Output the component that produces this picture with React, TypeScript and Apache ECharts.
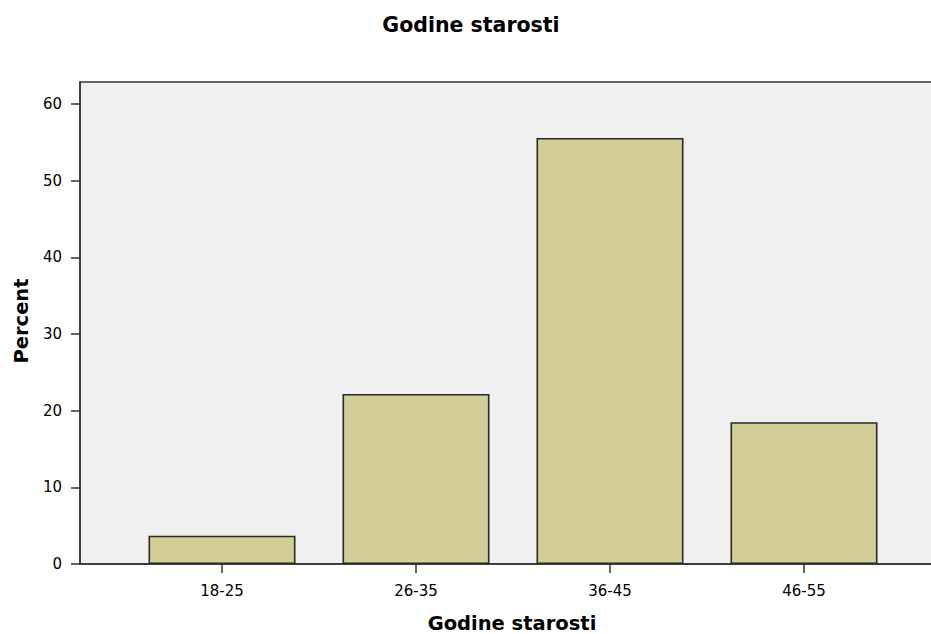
import React, { useEffect, useRef } from "react";
import * as echarts from "echarts";

const categories = ["18-25", "26-35", "36-45", "46-55"];
const percentValues = [3.7, 22.2, 55.6, 18.5];
const yTicks = [0, 10, 20, 30, 40, 50, 60];
const chartTitle = "Godine starosti";
const xTitle = "Godine starosti";
const yTitle = "Percent";

export default function App() {
  const ref = useRef<HTMLDivElement>(null);
  useEffect(() => {
    if (!ref.current) return;
    const chart = echarts.init(ref.current, null, { renderer: "svg" });
    const positions = categories.map((_, i) => i + 1);
    const tickFont = "DejaVu Sans, Verdana, sans-serif";
    chart.setOption({
      animation: false,
      backgroundColor: "#ffffff",
      grid: {
        left: 80,
        top: 82,
        right: 4,
        bottom: 70,
        show: true,
        backgroundColor: "#f0f0f0",
        borderColor: "#333333",
        borderWidth: 1.5,
      },
      xAxis: {
        type: "value",
        min: 0.268,
        max: 4.732,
        splitLine: { show: false },
        axisLine: { show: true, lineStyle: { color: "#333333", width: 1.5 } },
        axisTick: {
          show: true,
          customValues: positions,
          length: 9,
          lineStyle: { color: "#333333", width: 1.5 },
        },
        axisLabel: {
          customValues: positions,
          formatter: (v: number) => categories[Math.round(v) - 1] ?? "",
          color: "#000000",
          fontFamily: tickFont,
          fontSize: 15,
          margin: 19,
        },
      },
      yAxis: {
        type: "value",
        min: 0,
        max: 62.9,
        splitLine: { show: false },
        axisLine: { show: true, lineStyle: { color: "#333333", width: 1.5 } },
        axisTick: {
          show: true,
          customValues: yTicks,
          length: 9,
          lineStyle: { color: "#333333", width: 1.5 },
        },
        axisLabel: {
          customValues: yTicks,
          color: "#000000",
          fontFamily: tickFont,
          fontSize: 15,
          margin: 18,
        },
      },
      series: [
        {
          type: "bar",
          data: percentValues.map((v, i) => [positions[i], v]),
          barWidth: 147,
          itemStyle: {
            color: "#d3ce97",
            borderColor: "#2a2a2a",
            borderWidth: 1.6,
          },
        },
      ],
      graphic: [
        {
          type: "text",
          x: 471,
          y: 25,
          style: {
            text: chartTitle,
            textAlign: "center",
            textVerticalAlign: "middle",
            fontFamily: "DejaVu Sans, Verdana, sans-serif",
            fontWeight: "bold",
            fontSize: 20.5,
            fill: "#000000",
          },
        },
        {
          type: "text",
          x: 512,
          y: 623,
          style: {
            text: xTitle,
            textAlign: "center",
            textVerticalAlign: "middle",
            fontFamily: "DejaVu Sans, Verdana, sans-serif",
            fontWeight: "bold",
            fontSize: 19.5,
            fill: "#000000",
          },
        },
        {
          type: "text",
          x: 21,
          y: 321,
          rotation: Math.PI / 2,
          style: {
            text: yTitle,
            textAlign: "center",
            textVerticalAlign: "middle",
            fontFamily: "DejaVu Sans, Verdana, sans-serif",
            fontWeight: "bold",
            fontSize: 19.5,
            fill: "#000000",
          },
        },
      ],
    });
    return () => chart.dispose();
  }, []);
  return (
    <div
      style={{
        position: "fixed",
        left: 0,
        top: 0,
        width: 931,
        height: 634,
        overflow: "hidden",
      }}
    >
      <div ref={ref} style={{ width: 950, height: 634 }} />
    </div>
  );
}
